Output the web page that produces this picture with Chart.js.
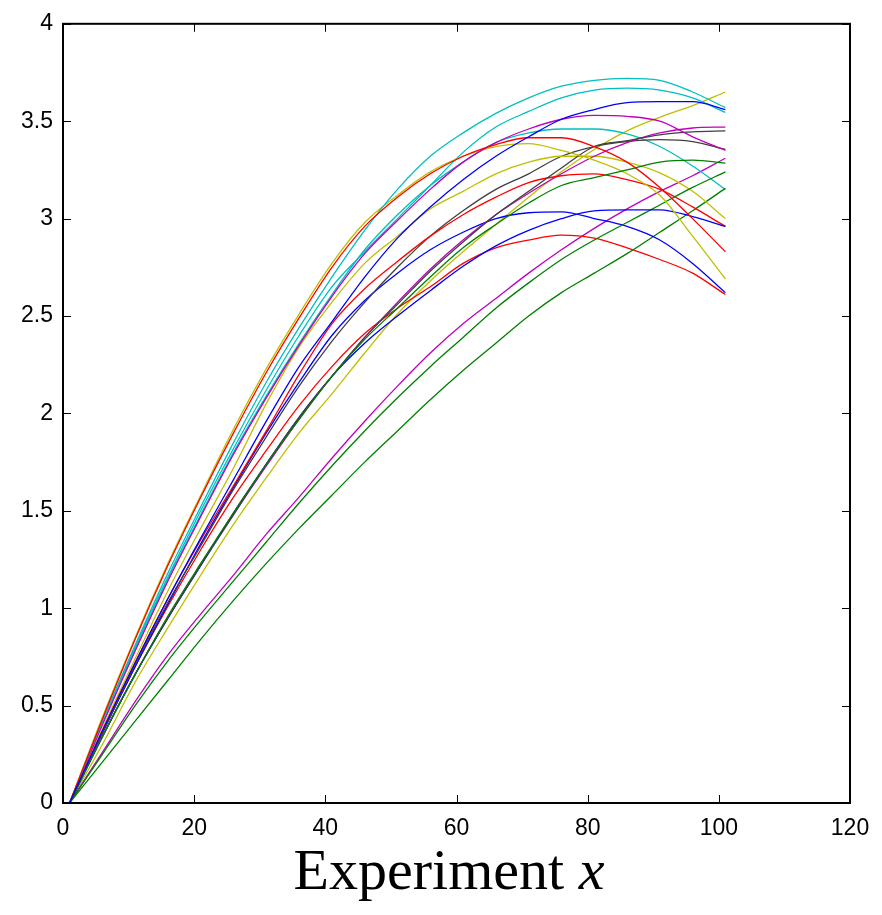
<!DOCTYPE html>
<html>
<head>
<meta charset="utf-8">
<title>Experiment x</title>
<script src="https://cdn.jsdelivr.net/npm/chart.js@4.4.1/dist/chart.umd.min.js"></script>
<style>
  html, body { margin: 0; padding: 0; background: #fff; }
  #wrap { position: relative; width: 882px; height: 915px; }
  #xlabel {
    position: absolute; left: 8px; width: 882px; top: 841px;
    text-align: center; font-family: 'Liberation Serif', 'Times New Roman', serif;
    font-size: 58px; line-height: 58px; color: #000;
  }
</style>
</head>
<body>
<div id="wrap">
  <canvas id="chart" width="882" height="915"></canvas>
  <div id="xlabel">Experiment <i>x</i></div>
</div>
<script>
// sample positions along x
const xValues = [1, 6, 11, 16, 21, 26, 31, 36, 41, 46, 51, 56, 61, 66, 71, 76, 81, 86, 91, 96, 101];
const xTicks = [0, 20, 40, 60, 80, 100, 120];
const yTicks = [0, 0.5, 1, 1.5, 2, 2.5, 3, 3.5, 4];

// values, one array per curve
const blue1 = [0, 0.37, 0.72, 1.05, 1.36, 1.66, 1.96, 2.24, 2.47, 2.70, 2.90, 3.06, 3.20, 3.32, 3.42, 3.51, 3.56, 3.595, 3.60, 3.60, 3.56];
const green1 = [0, 0.34, 0.66, 0.96, 1.23, 1.49, 1.74, 1.97, 2.19, 2.38, 2.54, 2.70, 2.85, 2.97, 3.08, 3.17, 3.21, 3.25, 3.29, 3.30, 3.285];
const red1 = [0, 0.43, 0.84, 1.22, 1.57, 1.90, 2.21, 2.49, 2.75, 2.96, 3.11, 3.23, 3.32, 3.38, 3.415, 3.415, 3.37, 3.29, 3.16, 3.00, 2.83];
const cyan1 = [0, 0.42, 0.81, 1.18, 1.52, 1.85, 2.16, 2.44, 2.70, 2.94, 3.15, 3.32, 3.44, 3.54, 3.62, 3.68, 3.71, 3.72, 3.71, 3.65, 3.57];
const magenta1 = [0, 0.40, 0.78, 1.14, 1.47, 1.79, 2.08, 2.35, 2.60, 2.82, 2.99, 3.15, 3.29, 3.39, 3.46, 3.51, 3.53, 3.525, 3.50, 3.42, 3.35];
const yellow1 = [0, 0.44, 0.85, 1.23, 1.58, 1.92, 2.23, 2.51, 2.77, 2.98, 3.12, 3.24, 3.32, 3.37, 3.385, 3.35, 3.30, 3.23, 3.12, 2.91, 2.69];
const black1 = [0, 0.34, 0.66, 0.95, 1.22, 1.48, 1.74, 1.98, 2.19, 2.39, 2.56, 2.73, 2.88, 3.02, 3.14, 3.26, 3.37, 3.40, 3.43, 3.445, 3.45];
const blue2 = [0, 0.34, 0.66, 0.95, 1.22, 1.49, 1.74, 1.98, 2.19, 2.36, 2.50, 2.63, 2.755, 2.86, 2.94, 3.00, 3.04, 3.045, 3.045, 3.01, 2.96];
const green2 = [0, 0.25, 0.50, 0.73, 0.94, 1.14, 1.34, 1.54, 1.73, 1.91, 2.08, 2.24, 2.39, 2.54, 2.67, 2.79, 2.89, 2.98, 3.07, 3.16, 3.24];
const red2 = [0, 0.37, 0.72, 1.05, 1.35, 1.63, 1.91, 2.20, 2.46, 2.64, 2.78, 2.91, 3.02, 3.11, 3.185, 3.22, 3.23, 3.20, 3.15, 3.06, 2.96];
const cyan2 = [0, 0.41, 0.80, 1.16, 1.50, 1.82, 2.12, 2.40, 2.65, 2.83, 3.00, 3.17, 3.34, 3.47, 3.55, 3.62, 3.66, 3.67, 3.66, 3.62, 3.545];
const magenta2 = [0, 0.34, 0.66, 0.95, 1.22, 1.48, 1.73, 1.97, 2.19, 2.39, 2.57, 2.74, 2.89, 3.02, 3.13, 3.23, 3.32, 3.39, 3.44, 3.465, 3.47];
const yellow2 = [0, 0.38, 0.74, 1.09, 1.41, 1.72, 2.05, 2.34, 2.57, 2.77, 2.91, 3.05, 3.14, 3.23, 3.29, 3.32, 3.32, 3.29, 3.235, 3.14, 3.00];
const black2 = [0, 0.36, 0.71, 1.03, 1.32, 1.61, 1.88, 2.14, 2.37, 2.57, 2.75, 2.91, 3.04, 3.15, 3.23, 3.32, 3.37, 3.395, 3.405, 3.395, 3.355];
const blue3 = [0, 0.36, 0.70, 1.02, 1.33, 1.62, 1.90, 2.16, 2.40, 2.58, 2.72, 2.84, 2.93, 3.00, 3.03, 3.035, 3.00, 2.96, 2.89, 2.77, 2.62];
const green3 = [0, 0.21, 0.42, 0.63, 0.84, 1.04, 1.23, 1.41, 1.58, 1.75, 1.91, 2.07, 2.22, 2.36, 2.50, 2.62, 2.72, 2.82, 2.93, 3.04, 3.155];
const red3 = [0, 0.36, 0.70, 1.01, 1.30, 1.57, 1.81, 2.04, 2.24, 2.41, 2.54, 2.65, 2.77, 2.85, 2.89, 2.915, 2.90, 2.85, 2.79, 2.72, 2.61];
const cyan3 = [0, 0.41, 0.79, 1.15, 1.48, 1.80, 2.09, 2.36, 2.61, 2.84, 3.02, 3.17, 3.29, 3.39, 3.44, 3.46, 3.46, 3.435, 3.37, 3.27, 3.15];
const magenta3 = [0, 0.26, 0.52, 0.76, 0.97, 1.17, 1.38, 1.57, 1.77, 1.96, 2.14, 2.31, 2.46, 2.59, 2.72, 2.84, 2.95, 3.05, 3.14, 3.22, 3.31];
const yellow3 = [0, 0.30, 0.62, 0.90, 1.17, 1.43, 1.67, 1.90, 2.10, 2.31, 2.51, 2.68, 2.83, 2.97, 3.11, 3.24, 3.355, 3.45, 3.52, 3.58, 3.65];

// old matlab colour order, cycled
const curves = [blue1, green1, red1, cyan1, magenta1, yellow1, black1,
                blue2, green2, red2, cyan2, magenta2, yellow2, black2,
                blue3, green3, red3, cyan3, magenta3, yellow3];
const colorOrder = ['#0000ff', '#008000', '#ff0000', '#00bfbf', '#bf00bf', '#bfbf00', '#404040'];

const datasets = curves.map((vals, i) => ({
  data: vals.map((v, j) => ({ x: xValues[j], y: v })),
  borderColor: colorOrder[i % colorOrder.length],
  borderWidth: 1.3,
  pointRadius: 0,
  fill: false,
  cubicInterpolationMode: 'monotone'
}));

// box around the axes with inward ticks on all four sides
const boxAndTicks = {
  id: 'boxAndTicks',
  afterDraw(chart) {
    const { ctx, chartArea: a, scales: { x, y } } = chart;
    ctx.save();
    ctx.strokeStyle = '#000';
    ctx.lineWidth = 1;
    ctx.beginPath();
    xTicks.forEach(v => {
      const p = Math.round(x.getPixelForValue(v)) + 0.5;
      ctx.moveTo(p, a.bottom); ctx.lineTo(p, a.bottom - 8);
      ctx.moveTo(p, a.top); ctx.lineTo(p, a.top + 8);
    });
    yTicks.forEach(v => {
      const p = Math.round(y.getPixelForValue(v)) + 0.5;
      ctx.moveTo(a.left, p); ctx.lineTo(a.left + 8, p);
      ctx.moveTo(a.right, p); ctx.lineTo(a.right - 8, p);
    });
    ctx.stroke();
    ctx.lineWidth = 2;
    ctx.strokeRect(a.left, a.top, a.right - a.left, a.bottom - a.top);
    ctx.restore();
  }
};

const tickFont = { family: "'Liberation Sans', Arial, sans-serif", size: 23 };

new Chart(document.getElementById('chart'), {
  type: 'line',
  data: { datasets },
  options: {
    responsive: false,
    devicePixelRatio: 1,
    animation: false,
    layout: { padding: { top: 16, right: 32, bottom: 67, left: 0 } },
    plugins: { legend: { display: false }, tooltip: { enabled: false } },
    scales: {
      x: {
        type: 'linear', min: 0, max: 120,
        afterBuildTicks: s => { s.ticks = xTicks.map(v => ({ value: v })); },
        afterFit: s => { s.height = 45; },
        ticks: { font: tickFont, color: '#000', padding: 12, maxRotation: 0, autoSkip: false, callback: v => String(v) },
        grid: { display: false, drawTicks: false },
        border: { display: false }
      },
      y: {
        type: 'linear', min: 0, max: 4,
        afterBuildTicks: s => { s.ticks = yTicks.map(v => ({ value: v })); },
        afterFit: s => { s.width = 63; },
        ticks: { font: tickFont, color: '#000', padding: 10, autoSkip: false, callback: v => String(v) },
        grid: { display: false, drawTicks: false },
        border: { display: false }
      }
    }
  },
  plugins: [boxAndTicks]
});
</script>
</body>
</html>
